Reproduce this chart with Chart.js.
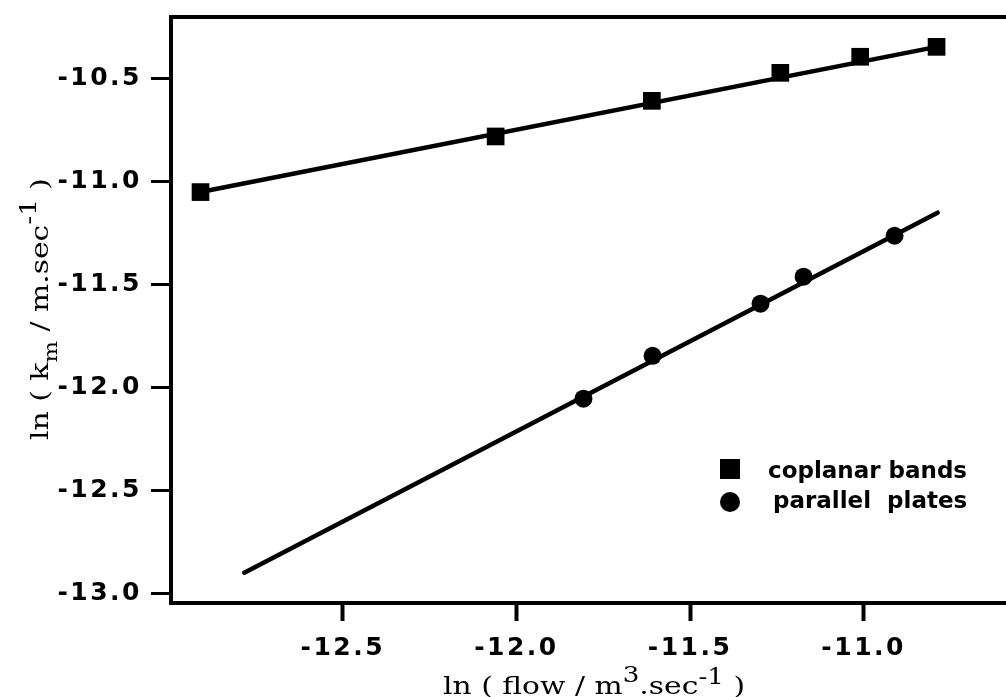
<!DOCTYPE html>
<html>
<head>
<meta charset="utf-8">
<script src="https://cdn.jsdelivr.net/npm/chart.js@4"></script>
<style>
  html, body { margin: 0; padding: 0; background: #fff; overflow: hidden; }
  #chart { display: block; }
</style>
</head>
<body>
<canvas id="chart" width="1006" height="697"></canvas>
<script>
// coplanar bands (squares)
const coplanarX = [-12.91, -12.06, -11.61, -11.24, -11.01, -10.79];
const coplanarY = [-11.05, -10.78, -10.607, -10.471, -10.393, -10.345];
// parallel plates (circles)
const platesX = [-11.807, -11.608, -11.297, -11.173, -10.911];
const platesY = [-12.053, -11.845, -11.592, -11.461, -11.262];
// fitted lines, end points
const coplanarFitX = [-12.91, -10.79];
const coplanarFitY = [-11.05, -10.345];
const platesFitX = [-12.784, -10.787];
const platesFitY = [-12.898, -11.15];

const xTicks = [-12.5, -12.0, -11.5, -11.0];
const yTicks = [-13.0, -12.5, -12.0, -11.5, -11.0, -10.5];
const seriesLabels = ['coplanar bands', 'parallel  plates'];

const pairs = (xs, ys) => xs.map((x, i) => ({ x: x, y: ys[i] }));

const tickFont = { family: 'DejaVu Sans', weight: 'bold', size: 25 };

// draw text made of pieces (super/subscripts), stretched to a given length
function drawRich(ctx, parts, x, y, length, angle) {
    ctx.save();
    ctx.translate(x, y);
    ctx.rotate(angle);
    let natural = 0;
    parts.forEach(p => {
        ctx.font = p.size + 'px "DejaVu Serif"';
        natural += ctx.measureText(p.text).width;
    });
    ctx.scale(length / natural, 1);
    let cx = 0;
    parts.forEach(p => {
        ctx.font = p.size + 'px "DejaVu Serif"';
        ctx.fillText(p.text, cx, p.dy);
        cx += ctx.measureText(p.text).width;
    });
    ctx.restore();
}

const spacing = {
    id: 'spacing',
    beforeDraw(chart) {
        chart.ctx.letterSpacing = '2.5px';
    },
    afterDraw(chart) {
        const ctx = chart.ctx;
        ctx.save();
        ctx.letterSpacing = '0px';
        ctx.fillStyle = '#000';
        ctx.textBaseline = 'alphabetic';
        ctx.textAlign = 'left';

        // legend
        ctx.fillRect(720, 459, 20, 20);
        ctx.beginPath();
        ctx.arc(730, 502, 10, 0, Math.PI * 2);
        ctx.fill();
        ctx.font = 'bold 23px "DejaVu Sans"';
        ctx.fillText(seriesLabels[0], 768, 478);
        ctx.fillText(seriesLabels[1], 773, 508);

        // axis titles
        drawRich(ctx, [
            { text: 'ln ( flow / m', size: 25, dy: 0 },
            { text: '3', size: 22, dy: -12 },
            { text: '.sec', size: 25, dy: 0 },
            { text: '-1', size: 22, dy: -10 },
            { text: ' )', size: 25, dy: 0 }
        ], 443, 694, 302, 0);

        drawRich(ctx, [
            { text: 'ln ( k', size: 25, dy: 0 },
            { text: 'm', size: 19, dy: 9 },
            { text: ' / m.sec', size: 25, dy: 0 },
            { text: '-1', size: 22, dy: -12 },
            { text: ' )', size: 25, dy: 0 }
        ], 48, 440, 262, -Math.PI / 2);
        ctx.restore();
    }
};

const noSidePad = s => { s.paddingLeft = 0; s.paddingRight = 0; };

const chart = new Chart(document.getElementById('chart'), {
    type: 'scatter',
    data: {
        datasets: [
            {
                label: seriesLabels[0],
                data: pairs(coplanarX, coplanarY),
                pointStyle: 'rect',
                pointRadius: 12.5,
                pointBorderWidth: 0,
                backgroundColor: '#000',
                borderColor: '#000'
            },
            {
                label: seriesLabels[1],
                data: pairs(platesX, platesY),
                pointStyle: 'circle',
                pointRadius: 9,
                pointBorderWidth: 0,
                backgroundColor: '#000',
                borderColor: '#000'
            },
            {
                label: 'coplanar fit',
                data: pairs(coplanarFitX, coplanarFitY),
                showLine: true,
                pointRadius: 0,
                borderColor: '#000',
                borderWidth: 4.5,
                borderCapStyle: 'round'
            },
            {
                label: 'plates fit',
                data: pairs(platesFitX, platesFitY),
                showLine: true,
                pointRadius: 0,
                borderColor: '#000',
                borderWidth: 4.5,
                borderCapStyle: 'round'
            }
        ]
    },
    options: {
        responsive: false,
        animation: false,
        events: [],
        // the plot runs off the right edge of the picture
        layout: { autoPadding: false, padding: { top: 17, left: 0, right: 0, bottom: 0 } },
        plugins: {
            legend: { display: false },
            tooltip: { enabled: false }
        },
        scales: {
            x: {
                type: 'linear',
                position: 'bottom',
                min: -12.995,
                max: -10.59,
                afterBuildTicks: s => { s.ticks = xTicks.map(v => ({ value: v })); },
                afterFit: s => { s.height = 94; noSidePad(s); },
                grid: { display: true, drawOnChartArea: false, drawTicks: true, tickLength: 18, tickWidth: 4, tickColor: '#000' },
                border: { display: true, color: '#000', width: 4 },
                ticks: {
                    color: '#000', font: tickFont, padding: 12, autoSkip: false, maxRotation: 0,
                    callback: v => v.toFixed(1)
                }
            },
            x2: {
                type: 'linear',
                position: 'top',
                min: -12.995,
                max: -10.59,
                afterFit: s => { s.height = 0; noSidePad(s); },
                grid: { display: false },
                border: { display: true, color: '#000', width: 4 },
                ticks: { display: false }
            },
            y: {
                type: 'linear',
                position: 'left',
                min: -13.045,
                max: -10.2,
                afterBuildTicks: s => { s.ticks = yTicks.map(v => ({ value: v })); },
                afterFit: s => { s.width = 171; s.paddingTop = 0; s.paddingBottom = 0; },
                grid: { display: true, drawOnChartArea: false, drawTicks: true, tickLength: 20, tickWidth: 3, tickColor: '#000' },
                border: { display: true, color: '#000', width: 4 },
                ticks: {
                    color: '#000', font: tickFont, padding: 9, autoSkip: false,
                    callback: v => v.toFixed(1)
                }
            }
        }
    },
    plugins: [spacing]
});
</script>
</body>
</html>
